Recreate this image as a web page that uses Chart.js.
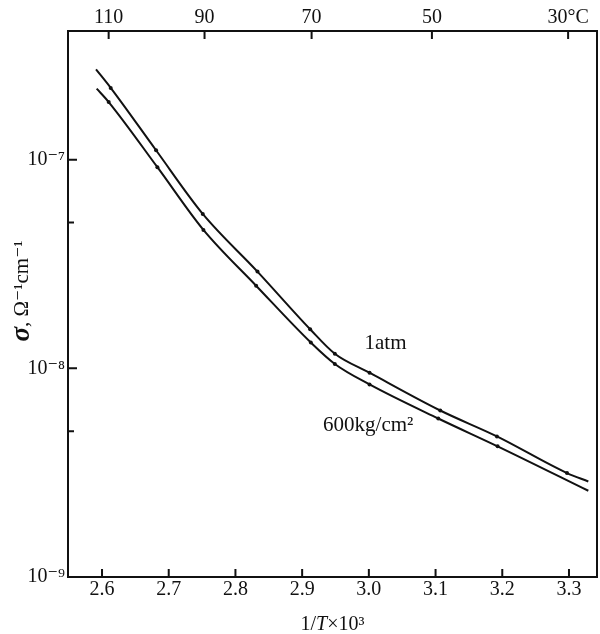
<!DOCTYPE html>
<html lang="en">
<head>
  <meta charset="UTF-8">
  <title>Conductivity vs 1/T</title>
  <style>
    body { margin: 0; background: #fff; }
    #wrap { width: 600px; height: 634px; }
  </style>
</head>
<body>
<div id="wrap"><canvas id="chart" width="600" height="634"></canvas></div>
<script src="https://cdn.jsdelivr.net/npm/chart.js"></script>
<script>
  // 1 atm curve: x = 1/T x 10^3, y = sigma (ohm^-1 cm^-1)
  const atmX = [2.591, 2.613, 2.681, 2.751, 2.833, 2.912, 2.949, 3.001, 3.107, 3.192, 3.297, 3.329];
  const atmY = [2.71e-7, 2.21e-7, 1.11e-7, 5.50e-8, 2.91e-8, 1.54e-8, 1.175e-8, 9.53e-9, 6.28e-9, 4.72e-9, 3.15e-9, 2.87e-9];

  // 600 kg/cm2 curve
  const kgX = [2.592, 2.610, 2.683, 2.752, 2.831, 2.913, 2.949, 3.001, 3.104, 3.193, 3.329];
  const kgY = [2.19e-7, 1.89e-7, 9.21e-8, 4.61e-8, 2.49e-8, 1.33e-8, 1.05e-8, 8.38e-9, 5.75e-9, 4.23e-9, 2.59e-9];

  // axes
  const xTicks = [2.6, 2.7, 2.8, 2.9, 3.0, 3.1, 3.2, 3.3];
  const tempTicks = [110, 90, 70, 50, 30];
  const tempLabels = ['110', '90', '70', '50', '30°C'];
  const yTicks = [1e-9, 1e-8, 1e-7];
  const yLabels = ['10⁻⁹', '10⁻⁸', '10⁻⁷'];
  const yMinor = [5e-9, 5e-8];

  // curve labels
  const noteText = ['1atm', '600kg/cm²'];
  const noteX = [3.025, 2.999];
  const noteY = [1.31e-8, 5.33e-9];

  const serif = '"Liberation Serif", "DejaVu Serif", serif';
  const ink = '#111';
  const toInvT = t => 1000 / (t + 273.15);

  const pts = (xs, ys) => xs.map((x, i) => ({ x: x, y: ys[i] }));

  // draw a run of [text, font] pieces centred on (0,0)
  function drawRun(ctx, parts) {
    let total = 0;
    parts.forEach(p => { ctx.font = p[1]; total += ctx.measureText(p[0]).width; });
    let x = -total / 2;
    parts.forEach(p => {
      ctx.font = p[1];
      ctx.fillText(p[0], x, 0);
      x += ctx.measureText(p[0]).width;
    });
  }

  // frame, inward tick marks, axis titles and curve notes
  const framePlugin = {
    id: 'frame',
    afterDraw(chart) {
      const { ctx, chartArea: a, scales } = chart;
      ctx.save();
      ctx.strokeStyle = ink;
      ctx.lineWidth = 2;
      ctx.strokeRect(a.left, a.top, a.right - a.left, a.bottom - a.top);
      ctx.beginPath();
      xTicks.forEach(v => {
        const p = scales.x.getPixelForValue(v);
        ctx.moveTo(p, a.bottom); ctx.lineTo(p, a.bottom - 8);
      });
      tempTicks.forEach(t => {
        const p = scales.x2.getPixelForValue(toInvT(t));
        ctx.moveTo(p, a.top); ctx.lineTo(p, a.top + 8);
      });
      yTicks.forEach(v => {
        const p = scales.y.getPixelForValue(v);
        ctx.moveTo(a.left, p); ctx.lineTo(a.left + 9, p);
      });
      yMinor.forEach(v => {
        const p = scales.y.getPixelForValue(v);
        ctx.moveTo(a.left, p); ctx.lineTo(a.left + 6, p);
      });
      ctx.stroke();

      ctx.fillStyle = ink;
      ctx.textAlign = 'left';
      ctx.textBaseline = 'middle';
      ctx.font = '21px ' + serif;
      noteText.forEach((t, i) => {
        const w = ctx.measureText(t).width;
        ctx.fillText(t, scales.x.getPixelForValue(noteX[i]) - w / 2, scales.y.getPixelForValue(noteY[i]));
      });

      // x title
      ctx.save();
      ctx.translate((a.left + a.right) / 2, 625);
      drawRun(ctx, [['1/', '20px ' + serif], ['T', 'italic 20px ' + serif], ['×10³', '20px ' + serif]]);
      ctx.restore();

      // y title
      ctx.save();
      ctx.translate(22, 291);
      ctx.rotate(-Math.PI / 2);
      drawRun(ctx, [['σ', 'bold italic 27px ' + serif], [', Ω⁻¹cm⁻¹', '21px ' + serif]]);
      ctx.restore();

      ctx.restore();
    }
  };

  const lineStyle = {
    borderColor: ink,
    backgroundColor: ink,
    borderWidth: 2,
    showLine: true,
    fill: false,
    cubicInterpolationMode: 'monotone',
    pointRadius: c => (c.dataIndex === 0 || c.dataIndex === c.dataset.data.length - 1) ? 0 : 2,
    pointBorderWidth: 0
  };

  const tickFont = { family: serif, size: 20 };

  new Chart(document.getElementById('chart'), {
    type: 'scatter',
    data: {
      datasets: [
        Object.assign({ label: '1 atm', data: pts(atmX, atmY) }, lineStyle),
        Object.assign({ label: '600 kg/cm²', data: pts(kgX, kgY) }, lineStyle)
      ]
    },
    options: {
      responsive: false,
      animation: false,
      layout: { padding: { left: 0, right: 3, top: 0, bottom: 0 } },
      plugins: { legend: { display: false }, tooltip: { enabled: false } },
      scales: {
        x: {
          type: 'linear',
          position: 'bottom',
          min: 2.549,
          max: 3.342,
          grid: { display: false, drawTicks: false },
          border: { display: false },
          afterBuildTicks: s => { s.ticks = xTicks.map(v => ({ value: v })); },
          afterFit: s => { s.height = 57; },
          ticks: { color: ink, font: tickFont, padding: 1, callback: v => Number(v).toFixed(1) }
        },
        x2: {
          type: 'linear',
          position: 'top',
          min: 2.549,
          max: 3.342,
          grid: { display: false, drawTicks: false },
          border: { display: false },
          afterBuildTicks: s => { s.ticks = tempTicks.map(t => ({ value: toInvT(t) })); },
          afterFit: s => { s.height = 31; },
          ticks: { color: ink, font: tickFont, padding: 1, callback: (v, i) => tempLabels[i] }
        },
        y: {
          type: 'logarithmic',
          position: 'left',
          min: 1e-9,
          max: 4.14e-7,
          grid: { display: false, drawTicks: false },
          border: { display: false },
          afterBuildTicks: s => { s.ticks = yTicks.map(v => ({ value: v })); },
          afterFit: s => { s.width = 68; },
          ticks: { color: ink, font: tickFont, padding: 3, callback: (v, i) => yLabels[i] }
        }
      }
    },
    plugins: [framePlugin]
  });
</script>
</body>
</html>
